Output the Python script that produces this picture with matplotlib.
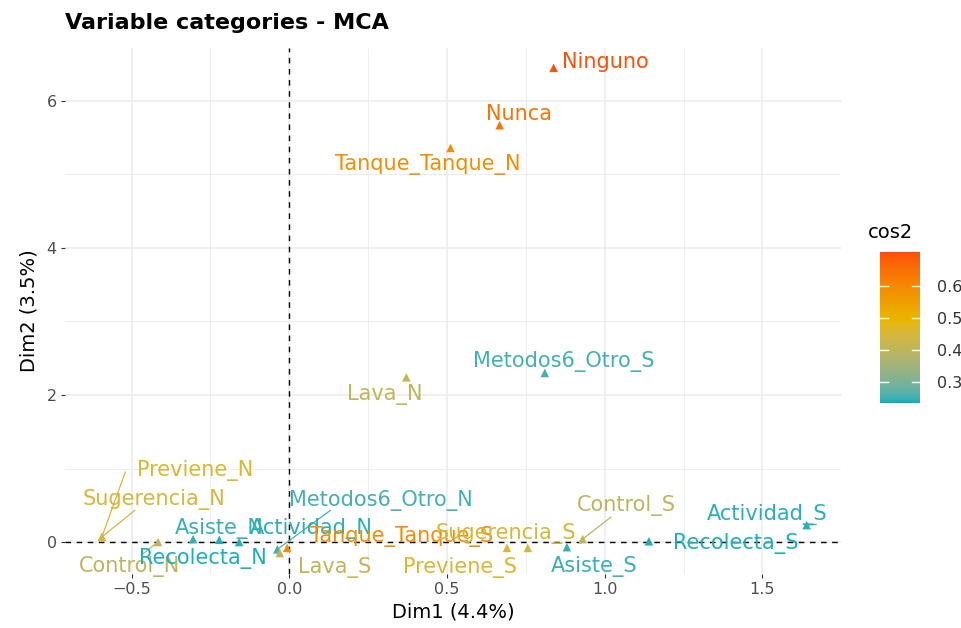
import numpy as np
import matplotlib
matplotlib.use("Agg")
import matplotlib.pyplot as plt
from matplotlib.colors import ListedColormap, Normalize, to_rgb

# ---------------- Data ----------------
categories = ["Ninguno", "Nunca", "Tanque_Tanque_N", "Lava_N", "Metodos6_Otro_S",
              "Previene_N", "Sugerencia_N", "Control_N", "Asiste_N", "Recolecta_N",
              "Actividad_N", "Metodos6_Otro_N", "Lava_S", "Tanque_Tanque_S",
              "Previene_S", "Sugerencia_S", "Asiste_S", "Control_S",
              "Recolecta_S", "Actividad_S"]
dim1 = [0.838, 0.667, 0.511, 0.371, 0.810,
        -0.594, -0.594, -0.416, -0.305, -0.222,
        -0.159, -0.038, -0.030, -0.007,
        0.690, 0.756, 0.880, 0.930,
        1.140, 1.640]
dim2 = [6.45, 5.67, 5.36, 2.24, 2.30,
        0.07, 0.07, 0.00, 0.04, 0.03,
        0.00, -0.10, -0.15, -0.08,
        -0.08, -0.08, -0.07, 0.04,
        0.01, 0.23]
cos2 = [0.70, 0.64, 0.59, 0.41, 0.255,
        0.46, 0.45, 0.40, 0.25, 0.24,
        0.245, 0.255, 0.41, 0.59,
        0.46, 0.45, 0.25, 0.40,
        0.24, 0.245]

# label placement (repelled positions) and segment start points
label_x = [1.003, 0.727, 0.438, 0.302, 0.870,
           -0.298, -0.429, -0.508, -0.222, -0.273,
           0.070, 0.289, 0.143, 0.356,
           0.540, 0.686, 0.965, 1.070,
           1.416, 1.514]
label_y = [6.53, 5.82, 5.13, 2.01, 2.45,
           0.97, 0.585, -0.33, 0.19, -0.22,
           0.19, 0.57, -0.34, 0.07,
           -0.34, 0.12, -0.33, 0.50,
           -0.02, 0.37]
seg_from = {"Previene_N": (-0.52, 0.95), "Sugerencia_N": (-0.49, 0.43),
            "Control_N": (-0.47, -0.18), "Metodos6_Otro_N": (0.13, 0.43),
            "Control_S": (1.02, 0.34), "Actividad_S": (1.67, 0.24)}

cbar_ticks = [0.3, 0.4, 0.5, 0.6]
vmin, vmax, vmid = 0.236, 0.705, 0.49


# ---------------- Colours (gradient2 interpolated in Lab like ggplot) ----------------
def srgb_to_lab(c):
    c = np.array(to_rgb(c))
    lin = np.where(c <= 0.04045, c / 12.92, ((c + 0.055) / 1.055) ** 2.4)
    M = np.array([[0.4124, 0.3576, 0.1805],
                  [0.2126, 0.7152, 0.0722],
                  [0.0193, 0.1192, 0.9505]])
    xyz = M @ lin / np.array([0.95047, 1.0, 1.08883])
    f = np.where(xyz > 0.008856, np.cbrt(xyz), 7.787 * xyz + 16 / 116)
    return np.array([116 * f[1] - 16, 500 * (f[0] - f[1]), 200 * (f[1] - f[2])])


def lab_to_srgb(lab):
    L, a, b = lab
    fy = (L + 16) / 116
    f = np.array([fy + a / 500, fy, fy - b / 200])
    xyz = np.where(f ** 3 > 0.008856, f ** 3, (f - 16 / 116) / 7.787)
    xyz = xyz * np.array([0.95047, 1.0, 1.08883])
    Minv = np.array([[3.2406, -1.5372, -0.4986],
                     [-0.9689, 1.8758, 0.0415],
                     [0.0557, -0.2040, 1.0570]])
    lin = Minv @ xyz
    c = np.where(lin <= 0.0031308, 12.92 * lin, 1.055 * np.clip(lin, 0, None) ** (1 / 2.4) - 0.055)
    return np.clip(c, 0, 1)


low, mid, high = srgb_to_lab("#00AFBB"), srgb_to_lab("#E7B800"), srgb_to_lab("#FC4E07")
m = (vmid - vmin) / (vmax - vmin)
grad = []
for t in np.linspace(0, 1, 256):
    if t <= m:
        u = t / m
        grad.append(lab_to_srgb(low + (mid - low) * u))
    else:
        u = (t - m) / (1 - m)
        grad.append(lab_to_srgb(mid + (high - mid) * u))
cmap = ListedColormap(grad)
norm = Normalize(vmin, vmax)
cols = [cmap(norm(c)) for c in cos2]

# ---------------- Plot ----------------
fig = plt.figure(figsize=(9.61, 6.28), dpi=100)
ax = fig.add_axes([65 / 961, 54 / 628, 776 / 961, 526 / 628])

ax.set_xlim(-0.711, 1.749)
ax.set_ylim(-0.435, 6.72)
ax.set_xticks([-0.5, 0.0, 0.5, 1.0, 1.5])
ax.set_yticks([0, 2, 4, 6])
ax.set_xticks([-0.25, 0.25, 0.75, 1.25], minor=True)
ax.set_yticks([1, 3, 5], minor=True)
ax.grid(which="major", color="#ebebeb", lw=1.1)
ax.grid(which="minor", color="#ebebeb", lw=0.6)
ax.set_axisbelow(True)
for s in ax.spines.values():
    s.set_visible(False)
ax.tick_params(which="major", length=3, color="#333333", labelsize=11.5,
               labelcolor="#4d4d4d", pad=3)
ax.tick_params(which="minor", length=0)

ax.axhline(0, color="black", ls=(0, (4, 4)), lw=1.0, zorder=1)
ax.axvline(0, color="black", ls=(0, (4, 4)), lw=1.0, zorder=1)

ax.scatter(dim1, dim2, c=cols, marker="^", s=38, zorder=3, linewidths=0)

for i, name in enumerate(categories):
    if name in seg_from:
        sx, sy = seg_from[name]
        ax.plot([sx, dim1[i]], [sy, dim2[i]], color=cols[i], lw=0.9, zorder=2)
    ax.text(label_x[i], label_y[i], name, color=cols[i], fontsize=15,
            ha="center", va="center", zorder=4)

ax.set_xlabel("Dim1 (4.4%)", fontsize=14, labelpad=4)
ax.set_ylabel("Dim2 (3.5%)", fontsize=14, labelpad=6)
fig.text(65 / 961, 1 - 23 / 628, "Variable categories - MCA", fontsize=16,
         fontweight="bold", ha="left", va="center")

# ---------------- Colour bar ----------------
cax = fig.add_axes([880 / 961, 1 - 403 / 628, 40 / 961, 151 / 628])
cb = fig.colorbar(plt.cm.ScalarMappable(norm=norm, cmap=cmap), cax=cax)
cb.outline.set_visible(False)
cb.set_ticks(cbar_ticks)
cb.set_ticklabels([f"{t:.1f}" for t in cbar_ticks])
cax.tick_params(length=0, labelsize=11.5, labelcolor="#333333", pad=12)
for t in cbar_ticks:
    cax.plot([0, 0.2], [t, t], color="white", lw=1.0, transform=cax.get_yaxis_transform())
    cax.plot([0.8, 1.0], [t, t], color="white", lw=1.0, transform=cax.get_yaxis_transform())
fig.text(868 / 961, 1 - 233 / 628, "cos2", fontsize=14, ha="left", va="center")

fig.savefig("out.png", dpi=100)
